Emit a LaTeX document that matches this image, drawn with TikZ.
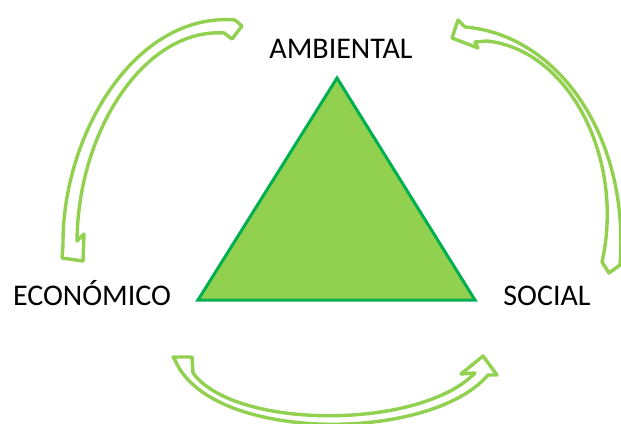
\documentclass[tikz,border=0pt]{standalone}
\usepackage{fontspec}
\setmainfont{Carlito}
\usetikzlibrary{positioning}
\definecolor{leafgreen}{HTML}{92D050}
\definecolor{darkgreen}{HTML}{00B050}
\tikzset{
x=0.5pt, y=-0.5pt, % one unit is one pixel of the sketch, y grows downwards
}
\tikzstyle{pillar} = [font=\fontsize{15}{18}\selectfont, text=black, inner sep=0pt, anchor=base]
\tikzstyle{base} = [draw=darkgreen, fill=leafgreen, line width=1.5pt, line join=miter]
\tikzstyle{cyclearrow} = [draw=leafgreen, fill=white, line width=1.7pt, line join=round]

\begin{document}
\begin{tikzpicture}
\useasboundingbox (0,0) rectangle (621,423);

% the three pillars
\node [pillar] (amb) at (341,58) {AMBIENTAL};
\node [pillar] (eco) at (92,305) {ECONÓMICO};
\node [pillar] (soc) at (547,305) {SOCIAL};

% triangle
\coordinate (apex) at (337,78);
\coordinate (left) at (198,300);
\coordinate (right) at (475,300);
\draw [base] (apex) -- (left) -- (right) -- cycle;

% ambiental -> economico
\draw [cyclearrow] (235,20) -- (242,26) -- (232,39) -- (224,33)
  .. controls (145,28) and (78,130) .. (77,241)
  -- (84,234) -- (83,261) -- (62,258) -- (63,245)
  .. controls (62,135) and (135,12) .. (235,20)
  -- cycle;

% economico -> social
\draw [cyclearrow] (173,357) -- (192,357) -- (193,373)
  .. controls (235,430) and (420,430) .. (475,373)
  -- (461,374) -- (483,356) -- (497,375) -- (488,375)
  .. controls (430,443) and (210,443) .. (175,360)
  -- cycle;

% social -> ambiental
\draw [cyclearrow] (602,262) -- (609,273) -- (620,265)
  .. controls (630,140) and (560,35) .. (465,27)
  -- (458,20) -- (452,38) -- (478,48) -- (475,42) -- (487,41)
  .. controls (570,50) and (625,160) .. (602,262)
  -- cycle;

\end{tikzpicture}
\end{document}
